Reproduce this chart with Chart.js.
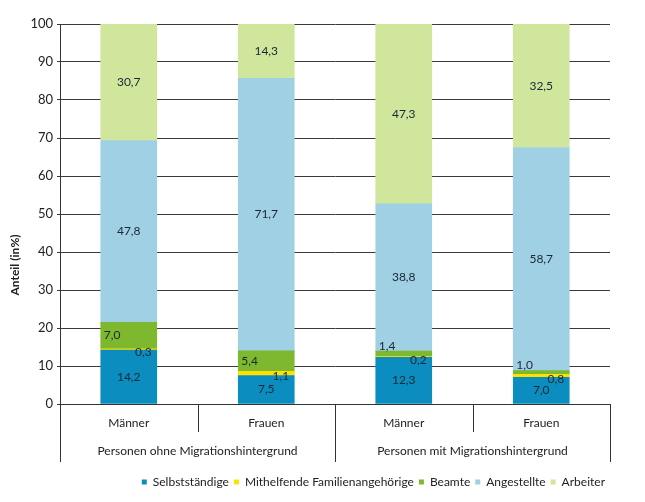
<!DOCTYPE html>
<html>
<head>
<meta charset="utf-8">
<script src="https://cdn.jsdelivr.net/npm/chart.js@4"></script>
<style>
  html, body { margin: 0; padding: 0; background: #fff; }
  #wrap { width: 645px; height: 502px; }
</style>
</head>
<body>
<div id="wrap"><canvas id="chart"></canvas></div>
<script>
  // Erwerbstätige nach Stellung im Beruf
  const categories = ['Männer', 'Frauen', 'Männer', 'Frauen'];
  const groups = ['Personen ohne Migrationshintergrund', 'Personen mit Migrationshintergrund'];
  const yTicks = [0, 10, 20, 30, 40, 50, 60, 70, 80, 90, 100];

  const selbststaendige = [14.2, 7.5, 12.3, 7.0];
  const mithelfende = [0.3, 1.1, 0.2, 0.8];
  const beamte = [7.0, 5.4, 1.4, 1.0];
  const angestellte = [47.8, 71.7, 38.8, 58.7];
  const arbeiter = [30.7, 14.3, 47.3, 32.5];

  const FONT = 'Lato, "Noto Sans", sans-serif';
  const INK = '#222';

  const fmt = v => v.toFixed(1).replace('.', ',');

  // Datenbeschriftungen wie im Original (kleine Segmente seitlich versetzt)
  const valueLabels = {
    id: 'valueLabels',
    afterDatasetsDraw(chart) {
      const ctx = chart.ctx;
      ctx.save();
      ctx.font = '12px ' + FONT;
      ctx.fillStyle = '#1b2733';
      chart.data.datasets.forEach((ds, i) => {
        const meta = chart.getDatasetMeta(i);
        meta.data.forEach((bar, j) => {
          const v = ds.data[j];
          const p = bar.getProps(['x', 'y', 'base', 'width'], true);
          const top = Math.min(p.y, p.base);
          const bottom = Math.max(p.y, p.base);
          const left = p.x - p.width / 2;
          const right = p.x + p.width / 2;
          const mid = (top + bottom) / 2;
          ctx.textBaseline = 'middle';
          if (ds.labelPos === 'left') {
            ctx.textAlign = 'left';
            const y = (bottom - top) >= 12 ? mid : top - 5;
            ctx.fillText(fmt(v), left + 3, y);
          } else if (ds.labelPos === 'right') {
            ctx.textAlign = 'right';
            ctx.fillText(fmt(v), right - 5, mid + 3);
          } else {
            ctx.textAlign = 'center';
            ctx.fillText(fmt(v), p.x, mid);
          }
        });
      });
      ctx.restore();
    }
  };

  // Tabellenlinien unter der x-Achse, Gruppenbeschriftung, y-Titel
  const axisTable = {
    id: 'axisTable',
    afterDraw(chart) {
      const ctx = chart.ctx;
      const x = chart.scales.x;
      const area = chart.chartArea;
      const n = categories.length;
      const step = (area.right - area.left) / n;
      const y0 = area.bottom;
      ctx.save();
      ctx.strokeStyle = '#333';
      ctx.lineWidth = 1;
      for (let k = 0; k <= n; k++) {
        const px = Math.round(area.left + k * step) + 0.5;
        const long = (k % 2 === 0);
        ctx.beginPath();
        ctx.moveTo(px, y0);
        ctx.lineTo(px, y0 + (long ? 58 : 28));
        ctx.stroke();
      }
      ctx.font = '12px ' + FONT;
      ctx.fillStyle = INK;
      ctx.textAlign = 'center';
      ctx.textBaseline = 'middle';
      groups.forEach((g, k) => {
        const cx = (x.getPixelForValue(k * 2) + x.getPixelForValue(k * 2 + 1)) / 2;
        ctx.fillText(g, cx, y0 + 47);
      });
      ctx.translate(15, 265);
      ctx.rotate(-Math.PI / 2);
      ctx.font = 'bold 12px ' + FONT;
      ctx.fillText('Anteil (in%)', 0, 0);
      ctx.restore();
    }
  };

  const ds = (label, data, color, labelPos) => ({
    label: label,
    data: data,
    backgroundColor: color,
    borderWidth: 0,
    barThickness: 56,
    labelPos: labelPos
  });

  new Chart(document.getElementById('chart'), {
    type: 'bar',
    data: {
      labels: categories,
      datasets: [
        ds('Selbstständige', selbststaendige, '#0b8dbf', 'center'),
        ds('Mithelfende Familienangehörige', mithelfende, '#fde200', 'right'),
        ds('Beamte', beamte, '#7db82e', 'left'),
        ds('Angestellte', angestellte, '#9fd0e4', 'center'),
        ds('Arbeiter', arbeiter, '#cfe69c', 'center')
      ]
    },
    options: {
      responsive: true,
      maintainAspectRatio: false,
      animation: false,
      layout: { padding: { top: 24, right: 35, bottom: 4, left: 0 } },
      plugins: {
        legend: {
          position: 'bottom',
          align: 'end',
          labels: {
            boxWidth: 5,
            boxHeight: 5,
            padding: 5,
            color: INK,
            font: { family: FONT, size: 12 }
          }
        },
        tooltip: { enabled: false }
      },
      scales: {
        x: {
          stacked: true,
          grid: { display: false, drawTicks: false },
          border: { display: true, color: '#333', width: 1 },
          ticks: {
            color: INK,
            padding: 12,
            font: { family: FONT, size: 12 }
          },
          afterFit(scale) { scale.height = 67; }
        },
        y: {
          stacked: true,
          min: 0,
          max: 100,
          afterBuildTicks(scale) { scale.ticks = yTicks.map(v => ({ value: v })); },
          grid: { color: '#3a3a3a', lineWidth: 1, tickLength: 3 },
          border: { display: true, color: '#333', width: 1 },
          ticks: {
            color: INK,
            padding: 4,
            font: { family: FONT, size: 13 }
          },
          afterFit(scale) { scale.width = 60; }
        }
      }
    },
    plugins: [valueLabels, axisTable]
  });
</script>
</body>
</html>
